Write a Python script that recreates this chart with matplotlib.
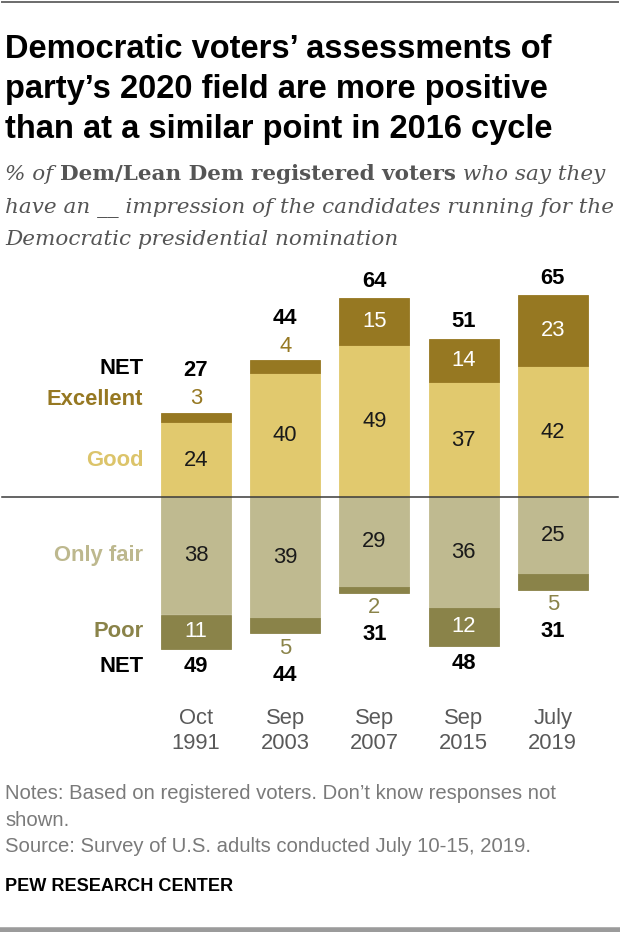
import matplotlib
matplotlib.use("Agg")
import matplotlib.pyplot as plt
from matplotlib.lines import Line2D

# ---------------- data ----------------
periods = ["Oct\n1991", "Sep\n2003", "Sep\n2007", "Sep\n2015", "July\n2019"]
excellent = [3, 4, 15, 14, 23]
good = [24, 40, 49, 37, 42]
only_fair = [38, 39, 29, 36, 25]
poor = [11, 5, 2, 12, 5]
net_pos = [27, 44, 64, 51, 65]
net_neg = [49, 44, 31, 48, 31]

title_lines = ["Democratic voters\u2019 assessments of",
               "party\u2019s 2020 field are more positive",
               "than at a similar point in 2016 cycle"]
note_lines = ["Notes: Based on registered voters. Don\u2019t know responses not",
              "shown.",
              "Source: Survey of U.S. adults conducted July 10-15, 2019."]

# ---------------- style ----------------
C_EXC = "#967822"
C_GOOD = "#E1C96E"
C_FAIR = "#BFBA90"
C_POOR = "#8A8349"
C_GOOD_TXT = "#DCC46A"
C_FAIR_TXT = "#BDB88E"

W, H = 620, 932
DPI = 100
fig = plt.figure(figsize=(W / DPI, H / DPI), dpi=DPI)
fig.patch.set_facecolor("white")
renderer = fig.canvas.get_renderer()

SANS = ["Liberation Sans", "DejaVu Sans"]
NARROW = ["Liberation Sans Narrow", "Liberation Sans", "DejaVu Sans"]
SERIF = ["DejaVu Serif"]


def px2fy(py):
    return 1 - py / H


def fit_size(s, target_px, **kw):
    t = fig.text(0, 0, s, fontsize=20, **kw)
    w = t.get_window_extent(renderer).width
    t.remove()
    return 20 * target_px / w


def text_w(s, size, **kw):
    t = fig.text(0, 0, s, fontsize=size, **kw)
    w = t.get_window_extent(renderer).width
    t.remove()
    return w


# frame lines top / bottom
fig.add_artist(Line2D([0.003, 0.997], [px2fy(2), px2fy(2)], color="#6b6b6b", lw=1.4,
                      transform=fig.transFigure))
fig.add_artist(Line2D([0, 1], [px2fy(929.5), px2fy(929.5)], color="#9b9b9b", lw=4,
                      transform=fig.transFigure))

# ---------------- title ----------------
tkw = dict(family=NARROW, weight="bold", color="black")
tsize = fit_size(title_lines[2], 546, **tkw)
for i, line in enumerate(title_lines):
    fig.text(5 / W, px2fy(58 + 40 * i), line, fontsize=tsize, ha="left",
             va="baseline", **tkw)

# ---------------- subtitle ----------------
skw = dict(family=SERIF, style="italic", color="#555555")
ssize = fit_size("have an __ impression of the candidates running for the", 607, **skw)
x = 5
pieces = [("% of ", dict(style="italic", weight="normal")),
          ("Dem/Lean Dem registered voters", dict(style="normal", weight="bold")),
          (" who say they", dict(style="italic", weight="normal"))]
for s, st in pieces:
    kw = dict(family=SERIF, color="#555555", **st)
    fig.text(x / W, px2fy(180), s, fontsize=ssize, ha="left", va="baseline", **kw)
    x += text_w(s, ssize, **kw)
fig.text(5 / W, px2fy(213), "have an __ impression of the candidates running for the",
         fontsize=ssize, ha="left", va="baseline", **skw)
fig.text(5 / W, px2fy(245), "Democratic presidential nomination",
         fontsize=ssize, ha="left", va="baseline", **skw)

# ---------------- chart ----------------
BASE_PX = 496.7
SCALE = 3.1           # px per percentage point
TOP_PX, BOT_PX = 250, 700
C0, STEP = 196.0, 89.2

ax = fig.add_axes([0, px2fy(BOT_PX), 1, (BOT_PX - TOP_PX) / H])
ax.set_xlim(-C0 / STEP, (W - C0) / STEP)
ax.set_ylim(-(BOT_PX - BASE_PX) / SCALE, (BASE_PX - TOP_PX) / SCALE)
for sp in ax.spines.values():
    sp.set_visible(False)
ax.set_yticks([])
ax.patch.set_alpha(0)

xs = list(range(len(periods)))
bw = 70 / STEP
neg_fair = [-v for v in only_fair]
neg_poor = [-v for v in poor]

bar_kw = dict(linewidth=0.6, zorder=2)
ax.bar(xs, good, bw, color=C_GOOD, edgecolor=C_GOOD, **bar_kw)
ax.bar(xs, excellent, bw, bottom=good, color=C_EXC, edgecolor=C_EXC, **bar_kw)
ax.bar(xs, neg_fair, bw, color=C_FAIR, edgecolor=C_FAIR, **bar_kw)
ax.bar(xs, neg_poor, bw, bottom=neg_fair, color=C_POOR, edgecolor=C_POOR, **bar_kw)
ax.axhline(0, xmin=0.003, xmax=0.997, color="#3a3a3a", lw=1.1, zorder=3)

u = lambda px: px / SCALE
VSIZE = 15.8
vkw = dict(family=SANS, fontsize=VSIZE, ha="center", va="center", zorder=4)
bkw = dict(family=SANS, fontsize=VSIZE, ha="center", va="center", weight="bold",
           color="black", zorder=4)

for i in xs:
    # good
    ax.text(i, good[i] / 2 - u(1), str(good[i]), color="#1a1a1a", **vkw)
    # excellent
    top = good[i] + excellent[i]
    if excellent[i] >= 10:
        ax.text(i, good[i] + excellent[i] / 2, str(excellent[i]), color="white", **vkw)
        ax.text(i, top + u(17), str(net_pos[i]), **bkw)
    else:
        ax.text(i, top + u(14), str(excellent[i]), color=C_EXC, **vkw)
        ax.text(i, top + u(42), str(net_pos[i]), **bkw)
    # only fair
    ax.text(i, -only_fair[i] / 2, str(only_fair[i]), color="#1a1a1a", **vkw)
    bot = -(only_fair[i] + poor[i])
    if poor[i] >= 10:
        ax.text(i, -only_fair[i] - poor[i] / 2, str(poor[i]), color="white", **vkw)
        ax.text(i, bot - u(18), str(net_neg[i]), **bkw)
    else:
        ax.text(i, bot - u(15), str(poor[i]), color=C_POOR, **vkw)
        ax.text(i, bot - u(42), str(net_neg[i]), **bkw)

# row labels (aligned with first column)
lx = (143.5 - C0) / STEP
lkw = dict(family=SANS, fontsize=VSIZE, ha="right", va="center", weight="bold", zorder=4)
top0 = good[0] + excellent[0]
bot0 = -(only_fair[0] + poor[0])
ax.text(lx, top0 + u(45), "NET", color="black", **lkw)
ax.text(lx, top0 + u(13), "Excellent", color=C_EXC, **lkw)
ax.text(lx, good[0] / 2 - u(1), "Good", color=C_GOOD_TXT, **lkw)
ax.text(lx, -only_fair[0] / 2, "Only fair", color=C_FAIR_TXT, **lkw)
ax.text(lx, -only_fair[0] - poor[0] / 2, "Poor", color=C_POOR, **lkw)
ax.text(lx, bot0 - u(18), "NET", color="black", **lkw)

# x tick labels
ax.set_xticks(xs)
ax.set_xticklabels(periods, family=SANS, fontsize=VSIZE, color="#595959",
                   linespacing=1.25)
ax.tick_params(axis="x", length=0, pad=6)

# ---------------- notes ----------------
nkw = dict(family=SANS, color="#7a7a7a")
nsize = fit_size(note_lines[0], 550, **nkw)
for i, line in enumerate(note_lines):
    fig.text(5 / W, px2fy(799 + 26.5 * i), line, fontsize=nsize, ha="left",
             va="baseline", **nkw)
pkw = dict(family=NARROW, weight="bold", color="black")
psize = fit_size("PEW RESEARCH CENTER", 227, **pkw)
fig.text(5 / W, px2fy(891), "PEW RESEARCH CENTER", fontsize=psize, ha="left",
         va="baseline", **pkw)

fig.savefig("out.png", dpi=DPI, facecolor="white")
